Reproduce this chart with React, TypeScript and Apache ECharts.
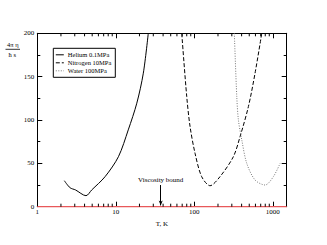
import React, { useEffect, useRef } from "react";
import * as echarts from "echarts";

const heliumT = [2.21, 2.61, 3.07, 4.17, 4.93, 7.29, 10.8, 14.4, 18.5, 22.4, 25.9];
const heliumV = [30.0, 21.9, 19.3, 12.7, 19.3, 34.6, 57.7, 88.6, 119.4, 154, 200];

const nitrogenT = [69.1, 80, 88.2, 102, 124, 158.6, 212, 314, 382, 488, 593, 722];
const nitrogenV = [200, 127, 92.4, 61.7, 34.6, 24.2, 34.6, 57.7, 80.8, 115.5, 154, 200];

const waterT = [323, 347, 364, 402, 465, 593, 796, 1014, 1236];
const waterV = [200, 127, 100, 77, 50, 30.8, 25, 34.6, 50];

const seriesNames = ["Helium 0.1MPa", "Nitrogen 10MPa", "Water 100MPa"];
const xMin = 1;
const xMax = 1500;
const yMin = 0;
const yMax = 200;
const yInterval = 50;
const minorTicksX = [2, 3, 4, 5, 6, 7, 8, 9, 20, 30, 40, 50, 60, 70, 80, 90, 200, 300, 400, 500, 600, 700, 800, 900];
const boundT = 37.3;
const boundFrom = 25;
const boundTo = 1.5;
const boundLabel = "Viscosity bound";

const FONT = "Liberation Serif";

export default function App() {
  const ref = useRef<HTMLDivElement>(null);
  useEffect(() => {
    if (!ref.current) return;
    const chart = echarts.init(ref.current, undefined, { renderer: "svg" });
    const zip = (a: number[], b: number[]) => a.map((v, i) => [v, b[i]]);
    const isPow10 = (v: number) => {
      const l = Math.log10(v);
      return Math.abs(l - Math.round(l)) < 1e-6;
    };
    chart.setOption({
      animation: false,
      textStyle: { fontFamily: FONT, color: "#000" },
      grid: { left: 37.3, right: 40.3, top: 33.3, bottom: 38.3 },
      legend: {
        data: seriesNames,
        orient: "vertical",
        left: 53.3,
        top: 48.3,
        backgroundColor: "#fff",
        borderColor: "#000",
        borderWidth: 1,
        borderRadius: 0,
        padding: [3, 4, 3, 2],
        itemWidth: 8,
        itemHeight: 6,
        itemGap: 1,
        itemStyle: { opacity: 0 },
        lineStyle: { width: 1 },
        textStyle: { fontFamily: FONT, fontSize: 6.5, color: "#000", padding: [0, 0, 0, -1] },
      },
      xAxis: [
        {
          type: "log",
          logBase: 10,
          min: xMin,
          max: xMax,
          position: "bottom",
          name: "T, K",
          nameLocation: "middle",
          nameGap: 10,
          nameTextStyle: { fontFamily: FONT, fontSize: 7, color: "#000" },
          axisLine: { onZero: false, lineStyle: { color: "#000", width: 1 } },
          axisTick: { show: true, inside: true, length: 5, lineStyle: { color: "#000", width: 1 } },
          axisLabel: {
            fontFamily: FONT,
            fontSize: 7,
            color: "#000",
            margin: 2,
            formatter: (v: number) => (isPow10(v) ? String(Math.round(v)) : ""),
          },
          splitLine: { show: false },
        },
        {
          type: "log",
          logBase: 10,
          min: xMin,
          max: xMax,
          position: "top",
          axisLine: { onZero: false, lineStyle: { color: "#000", width: 1 } },
          axisTick: { show: true, inside: true, length: 5, lineStyle: { color: "#000", width: 1 } },
          axisLabel: { show: false },
          splitLine: { show: false },
        },
      ],
      yAxis: [
        {
          type: "value",
          min: yMin,
          max: yMax,
          interval: yInterval,
          position: "left",
          axisLine: { show: true, onZero: false, lineStyle: { color: "#000", width: 1 } },
          axisTick: { show: true, inside: true, length: 5, lineStyle: { color: "#000", width: 1 } },
          minorTick: { show: true, splitNumber: 2, length: 3, lineStyle: { color: "#000", width: 1 } },
          axisLabel: { fontFamily: FONT, fontSize: 7, color: "#000", margin: 3 },
          splitLine: { show: false },
        },
        {
          type: "value",
          min: yMin,
          max: yMax,
          interval: yInterval,
          position: "right",
          axisLine: { show: true, onZero: false, lineStyle: { color: "#000", width: 1 } },
          axisTick: { show: true, inside: true, length: 5, lineStyle: { color: "#000", width: 1 } },
          minorTick: { show: true, splitNumber: 2, length: 3, lineStyle: { color: "#000", width: 1 } },
          axisLabel: { show: false },
          splitLine: { show: false },
        },
      ],
      graphic: [
        {
          type: "text",
          left: 7,
          top: 41,
          style: { text: "4π η", fontFamily: FONT, fontSize: 6.5, fill: "#000" },
        },
        {
          type: "line",
          shape: { x1: 5.5, y1: 49.3, x2: 20, y2: 49.3 },
          style: { stroke: "#000", lineWidth: 0.8 },
        },
        {
          type: "text",
          left: 8.5,
          top: 51,
          style: { text: "ħ s", fontFamily: FONT, fontSize: 6.5, fill: "#000" },
        },
      ],
      series: [
        {
          name: "bound",
          type: "line",
          data: [
            [xMin, 0],
            [xMax, 0],
          ],
          symbol: "none",
          lineStyle: { color: "#e8585a", width: 1.5 },
          z: 3,
          silent: true,
          markLine: {
            silent: true,
            symbol: ["none", "arrow"],
            symbolSize: [3, 5],
            lineStyle: { color: "#000", width: 1, type: "solid" },
            label: {
              show: true,
              position: "start",
              distance: 2,
              formatter: boundLabel,
              fontFamily: FONT,
              fontSize: 7,
              color: "#000",
            },
            data: [[{ coord: [boundT, boundFrom] }, { coord: [boundT, boundTo] }]],
          },
        },
        {
          name: "minorTicks",
          type: "custom",
          silent: true,
          encode: { x: 0, y: 1 },
          data: minorTicksX.map((v) => [v, 0]),
          renderItem: (params: any, api: any) => {
            const v = api.value(0);
            const b = api.coord([v, yMin]);
            const t = api.coord([v, yMax]);
            return {
              type: "group",
              children: [
                {
                  type: "line",
                  shape: { x1: b[0], y1: b[1], x2: b[0], y2: b[1] - 3 },
                  style: { stroke: "#000", lineWidth: 1 },
                },
                {
                  type: "line",
                  shape: { x1: t[0], y1: t[1], x2: t[0], y2: t[1] + 3 },
                  style: { stroke: "#000", lineWidth: 1 },
                },
              ],
            };
          },
          z: 4,
        },
        {
          name: seriesNames[0],
          type: "line",
          data: zip(heliumT, heliumV),
          symbol: "none",
          smooth: 0.3,
          color: "#000",
          lineStyle: { color: "#000", width: 1, type: "solid" },
        },
        {
          name: seriesNames[1],
          type: "line",
          data: zip(nitrogenT, nitrogenV),
          symbol: "none",
          smooth: 0.3,
          color: "#000",
          lineStyle: { color: "#000", width: 1, type: [4, 2] },
        },
        {
          name: seriesNames[2],
          type: "line",
          data: zip(waterT, waterV),
          symbol: "none",
          smooth: 0.3,
          color: "#777",
          lineStyle: { color: "#777", width: 1, type: [1, 1.5] },
        },
      ],
    });
    return () => chart.dispose();
  }, []);
  return (
    <div
      ref={ref}
      style={{ position: "absolute", left: 0, top: 0, width: 327, height: 245, background: "#fff" }}
    />
  );
}
